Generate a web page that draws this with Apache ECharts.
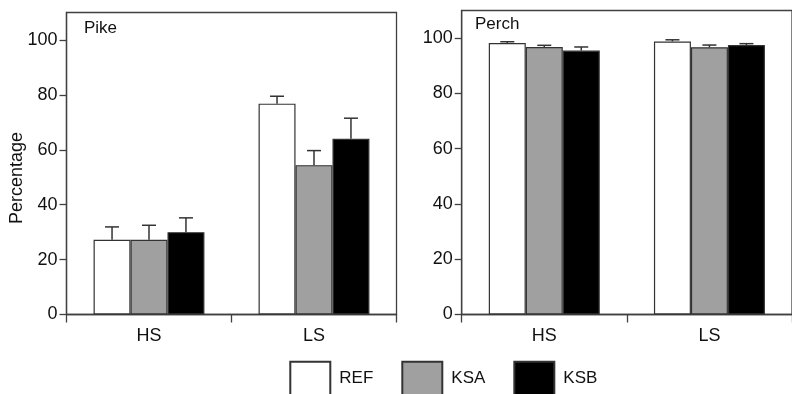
<!DOCTYPE html>
<html>
<head>
<meta charset="utf-8">
<script src="https://cdn.jsdelivr.net/npm/echarts@6/dist/echarts.min.js"></script>
<style>html,body{margin:0;padding:0;background:#fff}#c{width:792px;height:394px}</style>
</head>
<body>
<div id="c"></div>
<script>
const categories = ['HS', 'LS'];
const seriesNames = ['REF', 'KSA', 'KSB'];
const yTicks = [0, 20, 40, 60, 80, 100];
// Pike: means and upper error-bar ends
const pikeREF = [27.2, 76.8];
const pikeKSA = [27.2, 54.4];
const pikeKSB = [30.0, 64.0];
const pikeREFerr = [31.9, 79.5];
const pikeKSAerr = [32.5, 59.7];
const pikeKSBerr = [35.2, 71.5];
// Perch
const perchREF = [98.2, 98.8];
const perchKSA = [96.8, 96.7];
const perchKSB = [95.5, 97.5];
const perchREFerr = [98.7, 99.4];
const perchKSAerr = [97.4, 97.5];
const perchKSBerr = [96.8, 98.0];

const fills = ['#ffffff', '#a0a0a0', '#000000'];
const FONT = 'Liberation Sans, Arial, sans-serif';
const axisCol = '#404040';
const BW = 0.224;

function xAxisFor(gi) {
  return {
    type: 'category', gridIndex: gi, data: categories, boundaryGap: true,
    axisLine: { lineStyle: { color: axisCol, width: 1.3 } },
    axisTick: { show: true, length: 8, inside: false, alignWithLabel: false, lineStyle: { color: axisCol, width: 1.3 } },
    axisLabel: { color: '#111', fontSize: 18, fontFamily: FONT, margin: 13 },
    splitLine: { show: false }
  };
}
function yAxisFor(gi) {
  return {
    type: 'value', gridIndex: gi, min: 0, max: 110, interval: 20,
    axisLine: { show: true, lineStyle: { color: axisCol, width: 1.3 } },
    axisTick: { show: true, length: 7, lineStyle: { color: axisCol, width: 1.3 }, customValues: yTicks },
    axisLabel: { color: '#111', fontSize: 18, fontFamily: FONT, margin: 9, customValues: yTicks },
    splitLine: { show: false }
  };
}
function barSeries(gi, k, vals) {
  return {
    type: 'bar', name: seriesNames[k], xAxisIndex: gi, yAxisIndex: gi,
    data: vals, barWidth: (BW * 100) + '%', barGap: '0%',
    itemStyle: { color: fills[k], borderColor: '#333', borderWidth: 1.2 },
    z: 2
  };
}
function errSeries(gi, k, vals, errs) {
  return {
    type: 'custom', xAxisIndex: gi, yAxisIndex: gi, z: 3, silent: true,
    data: vals.map((v, i) => [i, v, errs[i]]),
    encode: { x: 0, y: [1, 2] },
    renderItem: function (params, api) {
      const x = api.value(0), v = api.value(1), e = api.value(2);
      const p0 = api.coord([x, v]);
      const p1 = api.coord([x, e]);
      const band = api.size([1, 0])[0];
      const bw = band * BW;
      const cx = p0[0] + (k - 1) * bw;
      const st = { stroke: '#333', lineWidth: 1.5 };
      return {
        type: 'group', children: [
          { type: 'line', shape: { x1: cx, y1: p0[1], x2: cx, y2: p1[1] }, style: st },
          { type: 'line', shape: { x1: cx - 7, y1: p1[1], x2: cx + 7, y2: p1[1] }, style: st }
        ]
      };
    }
  };
}

const pike = [pikeREF, pikeKSA, pikeKSB];
const pikeE = [pikeREFerr, pikeKSAerr, pikeKSBerr];
const perch = [perchREF, perchKSA, perchKSB];
const perchE = [perchREFerr, perchKSAerr, perchKSBerr];

const series = [];
[0, 1, 2].forEach(k => series.push(barSeries(0, k, pike[k])));
[0, 1, 2].forEach(k => series.push(barSeries(1, k, perch[k])));
[0, 1, 2].forEach(k => series.push(errSeries(0, k, pike[k], pikeE[k])));
[0, 1, 2].forEach(k => series.push(errSeries(1, k, perch[k], perchE[k])));

const chart = echarts.init(document.getElementById('c'), null, { renderer: 'canvas' });
chart.setOption({
  animation: false,
  backgroundColor: '#fff',
  textStyle: { fontFamily: FONT },
  grid: [
    { left: 66.5, top: 12.5, right: 395.5, bottom: 79.5, show: true, borderColor: axisCol, borderWidth: 1.3, backgroundColor: 'transparent', containLabel: false },
    { left: 461.7, top: 10.5, right: -10.3, bottom: 79.5, show: true, borderColor: axisCol, borderWidth: 1.3, backgroundColor: 'transparent', containLabel: false }
  ],
  xAxis: [xAxisFor(0), xAxisFor(1)],
  yAxis: [yAxisFor(0), yAxisFor(1)],
  legend: {
    data: seriesNames, left: 289.3, top: 360.7, orient: 'horizontal', padding: 0,
    icon: 'rect', itemWidth: 40, itemHeight: 34, itemGap: 28,
    textStyle: { fontSize: 17, fontFamily: FONT, color: '#111', padding: [0, 0, 0, 4] },
    selectedMode: false
  },
  graphic: [
    { type: 'text', left: 84, top: 20, style: { text: 'Pike', fontSize: 17, fontFamily: FONT, fill: '#111' } },
    { type: 'text', left: 475, top: 16, style: { text: 'Perch', fontSize: 17, fontFamily: FONT, fill: '#111' } },
    { type: 'text', x: 17, y: 178, rotation: Math.PI / 2, style: { text: 'Percentage', fontSize: 18, fontFamily: FONT, fill: '#111', align: 'center', verticalAlign: 'middle' } }
  ],
  series: series
});
</script>
</body>
</html>
